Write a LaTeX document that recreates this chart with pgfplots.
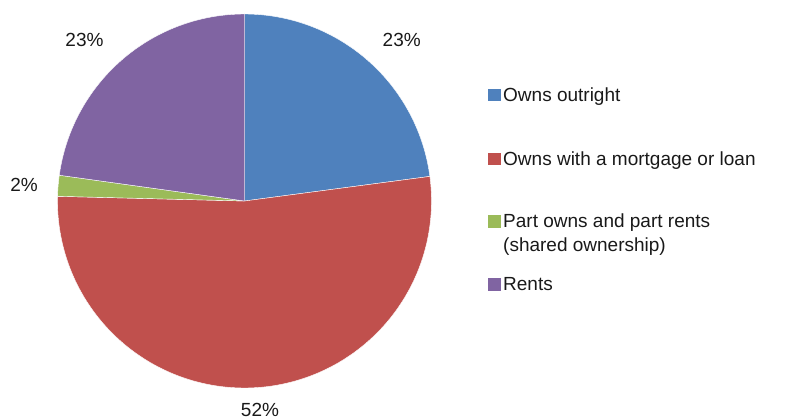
\documentclass[border=0pt]{standalone}
\usepackage{fontspec}
\setmainfont{Liberation Sans}
\usepackage{pgfplots}
\pgfplotsset{compat=1.18}

\definecolor{cblue}{HTML}{4F81BD}
\definecolor{cred}{HTML}{C0504D}
\definecolor{cgreen}{HTML}{9BBB59}
\definecolor{cpurple}{HTML}{8064A2}

% shares in percent: 22.9, 52.5, 1.8, 22.8 (clockwise from 12 o'clock)
% slice angles = share * 3.6 degrees

\begin{document}
\fontsize{19}{24}\selectfont
\begin{tikzpicture}
\tikzset{lbl/.style={font=\fontsize{19}{24}\selectfont, text=black!90}}
\begin{axis}[
	scale only axis,
	width=787pt, height=420pt,
	xmin=0, xmax=787, ymin=0, ymax=420,
	y dir=reverse,
	hide axis,
	clip=false,
]
\path (0,0) rectangle (787,420);
% Owns outright 22.9%
\addplot[fill=cblue, draw=white, line width=0.4pt, domain=7.56:90, samples=90]
	({244.5+187*cos(x)}, {201-187*sin(x)}) -- (244.5,201) -- cycle;
% Owns with a mortgage or loan 52.5%
\addplot[fill=cred, draw=white, line width=0.4pt, domain=-181.44:7.56, samples=180]
	({244.5+187*cos(x)}, {201-187*sin(x)}) -- (244.5,201) -- cycle;
% Part owns and part rents 1.8%
\addplot[fill=cgreen, draw=white, line width=0.4pt, domain=-187.92:-181.44, samples=10]
	({244.5+187*cos(x)}, {201-187*sin(x)}) -- (244.5,201) -- cycle;
% Rents 22.8%
\addplot[fill=cpurple, draw=white, line width=0.4pt, domain=-270:-187.92, samples=90]
	({244.5+187*cos(x)}, {201-187*sin(x)}) -- (244.5,201) -- cycle;

% data labels
\node[lbl, anchor=base, inner sep=0pt] at (401.7,46.7) {23\%};
\node[lbl, anchor=base, inner sep=0pt] at (260,416.5) {52\%};
\node[lbl, anchor=base, inner sep=0pt] at (24,191.7) {2\%};
\node[lbl, anchor=base, inner sep=0pt] at (84.5,46.7) {23\%};

% legend
\fill[cblue]   (488,88.5) rectangle (500.5,101);
\fill[cred]    (488,152.5) rectangle (500.5,165);
\fill[cgreen]  (488,215) rectangle (500.5,227.5);
\fill[cpurple] (488,278.3) rectangle (500.5,290.8);
\node[lbl, anchor=base west, inner sep=0pt] at (503,101.7) {Owns outright};
\node[lbl, anchor=base west, inner sep=0pt] at (503,165) {Owns with a mortgage or loan};
\node[lbl, anchor=base west, inner sep=0pt] at (503,227.7) {Part owns and part rents};
\node[lbl, anchor=base west, inner sep=0pt] at (503,251.5) {(shared ownership)};
\node[lbl, anchor=base west, inner sep=0pt] at (503,290.7) {Rents};
\end{axis}
\end{tikzpicture}
\end{document}
